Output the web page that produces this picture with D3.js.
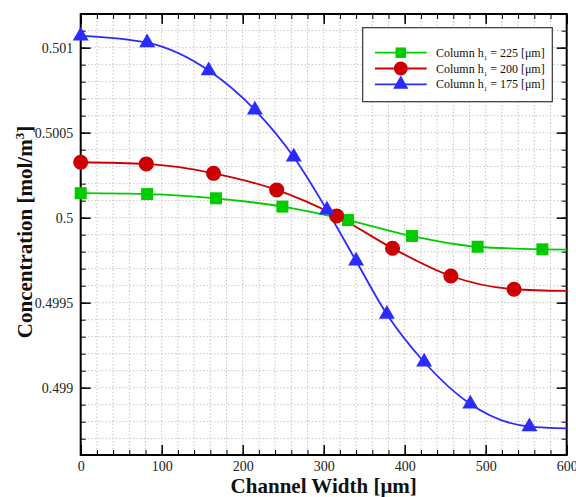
<!DOCTYPE html>
<html>
<head>
<meta charset="utf-8">
<script src="https://cdn.jsdelivr.net/npm/d3@7"></script>
<style>
  html, body { margin: 0; padding: 0; background: #fff; }
  svg { display: block; }
  text { font-family: "Liberation Serif", "Times New Roman", serif; }
</style>
</head>
<body>
<svg id="chart" width="576" height="497"></svg>
<script>
// ---- data ----
const seriesNames = ["Column h\u2081 = 225 [\u03bcm]", "Column h\u2081 = 200 [\u03bcm]", "Column h\u2081 = 175 [\u03bcm]"];
const seriesColors = ["#00cc00", "#cc0000", "#2b2bff"];
const seriesSymbols = ["square", "circle", "triangle"];

// markers
const greenX = [0, 82, 167, 249, 330, 409, 490, 570];
const greenY = [0.500144, 0.500139, 0.500114, 0.500065, 0.499986, 0.499892, 0.499829, 0.499814];
const redX = [0, 81, 164, 242, 316, 385, 457, 535];
const redY = [0.500326, 0.500316, 0.500261, 0.500163, 0.500010, 0.499820, 0.499657, 0.499579];
const blueX = [0, 82, 158, 215, 263, 304, 340, 378, 424, 481, 554];
const blueY = [0.501069, 0.501029, 0.500865, 0.500634, 0.500357, 0.500045, 0.499745, 0.499432, 0.499151, 0.498904, 0.498771];
// curve end values at x = 600
const endX = 600;
const endY = [0.499812, 0.499569, 0.498761];

const xTickValues = [0, 100, 200, 300, 400, 500, 600];
const xTickLabels = ["0", "100", "200", "300", "400", "500", "600"];
const yTickValues = [0.499, 0.4995, 0.5, 0.5005, 0.501];
const yTickLabels = ["0.499", "0.4995", "0.5", "0.5005", "0.501"];
const xTitle = "Channel Width [\u03bcm]";

// ---- layout ----
const svg = d3.select("#chart");
const L = 80.7, R = 566.7, T = 14, B = 455;
const x = d3.scaleLinear().domain([0, 600]).range([L, R]);
const y = d3.scaleLinear().domain([0.498604, 0.501198]).range([B, T]);

const xMinor = d3.range(0, 601, 20);
const yMinor = d3.range(4987, 5012).map(v => v / 10000);

// grid
const grid = svg.append("g").attr("stroke", "#c4c4c4").attr("stroke-width", 1).attr("stroke-dasharray", "1.5,2");
grid.selectAll("line.gx").data(xMinor.filter(v => v > 0 && v < 600)).join("line")
  .attr("x1", d => x(d)).attr("x2", d => x(d)).attr("y1", T).attr("y2", B);
grid.selectAll("line.gy").data(yMinor).join("line")
  .attr("y1", d => y(d)).attr("y2", d => y(d)).attr("x1", L).attr("x2", R);

// axes
function styleAxis(g) {
  g.attr("font-family", null).attr("font-size", null);
  g.select(".domain").remove();
  g.selectAll(".tick line").attr("stroke", "#000").attr("stroke-width", 1.5);
  g.selectAll("text").attr("font-size", 14).attr("fill", "#222")
   .style("font-family", "'Liberation Serif', 'Times New Roman', serif");
}
const xFmt = d => xTickLabels[xTickValues.indexOf(d)];
const yFmt = d => yTickLabels[yTickValues.indexOf(d)];

svg.append("g").attr("transform", `translate(0,${B})`)
  .call(d3.axisBottom(x).tickValues(xMinor).tickSize(-5).tickFormat("")).call(styleAxis)
  .selectAll(".tick line").attr("stroke-width", 1);
svg.append("g").attr("transform", `translate(0,${B})`)
  .call(d3.axisBottom(x).tickValues(xTickValues).tickSize(-10).tickPadding(6).tickFormat(xFmt)).call(styleAxis);
svg.append("g").attr("transform", `translate(0,${T})`)
  .call(d3.axisTop(x).tickValues(xMinor).tickSize(-5).tickFormat("")).call(styleAxis)
  .selectAll(".tick line").attr("stroke-width", 1);
svg.append("g").attr("transform", `translate(0,${T})`)
  .call(d3.axisTop(x).tickValues(xTickValues).tickSize(-10).tickFormat("")).call(styleAxis);

svg.append("g").attr("transform", `translate(${L},0)`)
  .call(d3.axisLeft(y).tickValues(yMinor).tickSize(-5).tickFormat("")).call(styleAxis)
  .selectAll(".tick line").attr("stroke-width", 1);
svg.append("g").attr("transform", `translate(${L},0)`)
  .call(d3.axisLeft(y).tickValues(yTickValues).tickSize(-10).tickPadding(7.5).tickFormat(yFmt)).call(styleAxis);
svg.append("g").attr("transform", `translate(${R},0)`)
  .call(d3.axisRight(y).tickValues(yMinor).tickSize(-5).tickFormat("")).call(styleAxis)
  .selectAll(".tick line").attr("stroke-width", 1);
svg.append("g").attr("transform", `translate(${R},0)`)
  .call(d3.axisRight(y).tickValues(yTickValues).tickSize(-10).tickFormat("")).call(styleAxis);

// frame
svg.append("rect").attr("x", L).attr("y", T).attr("width", R - L).attr("height", B - T)
  .attr("fill", "none").attr("stroke", "#000").attr("stroke-width", 2);

// series
const series = [
  { xs: greenX, ys: greenY },
  { xs: redX, ys: redY },
  { xs: blueX, ys: blueY }
].map((s, i) => ({
  pts: s.xs.map((v, j) => [v, s.ys[j]]),
  curve: s.xs.map((v, j) => [v, s.ys[j]]).concat([[endX, endY[i]]]),
  color: seriesColors[i], sym: seriesSymbols[i], name: seriesNames[i]
}));

const line = d3.line().x(d => x(d[0])).y(d => y(d[1])).curve(d3.curveMonotoneX);
const symSize = { square: 144, circle: 180, triangle: 110 };
const symType = { square: d3.symbolSquare, circle: d3.symbolCircle, triangle: d3.symbolTriangle };

const plot = svg.append("g");
series.forEach(s => {
  plot.append("path").attr("d", line(s.curve)).attr("fill", "none")
    .attr("stroke", s.color).attr("stroke-width", 1.8);
});
series.forEach(s => {
  plot.selectAll(null).data(s.pts).join("path")
    .attr("transform", d => `translate(${x(d[0])},${y(d[1])})`)
    .attr("d", d3.symbol().type(symType[s.sym]).size(symSize[s.sym]))
    .attr("fill", s.color);
});

// legend
const lg = svg.append("g");
lg.append("rect").attr("x", 362.7).attr("y", 27.7).attr("width", 189.6).attr("height", 74)
  .attr("fill", "#fff").attr("stroke", "#333").attr("stroke-width", 1.2);
const legY = [52.7, 68.5, 84.3];
series.forEach((s, i) => {
  lg.append("line").attr("x1", 375).attr("x2", 426.7).attr("y1", legY[i]).attr("y2", legY[i])
    .attr("stroke", s.color).attr("stroke-width", 1.8);
  lg.append("path").attr("transform", `translate(400.8,${legY[i]})`)
    .attr("d", d3.symbol().type(symType[s.sym]).size(s.sym === "square" ? 110 : s.sym === "circle" ? 150 : 100))
    .attr("fill", s.color);
  const t = lg.append("text").attr("x", 436).attr("y", legY[i] + 4).attr("font-size", 12).attr("fill", "#111");
  t.append("tspan").text("Column h");
  t.append("tspan").attr("font-size", 7).attr("dy", 3).text("1");
  t.append("tspan").attr("dy", -3).text(s.name.replace("Column h\u2081", ""));
});

// titles
svg.append("text").attr("x", (L + R) / 2).attr("y", 493).attr("text-anchor", "middle")
  .attr("font-size", 21).attr("font-weight", "bold").attr("fill", "#111").text(xTitle);
const yt = svg.append("text").attr("transform", `translate(32,232) rotate(-90)`)
  .attr("text-anchor", "middle").attr("font-size", 21).attr("font-weight", "bold").attr("fill", "#111");
yt.append("tspan").text("Concentration [mol/m");
yt.append("tspan").attr("font-size", 13).attr("dy", -8).text("3");
yt.append("tspan").attr("dy", 8).text("]");
</script>
</body>
</html>
